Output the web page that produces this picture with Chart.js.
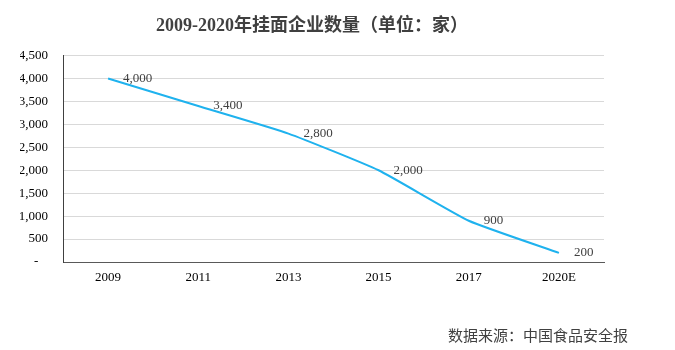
<!DOCTYPE html>
<html>
<head>
<meta charset="utf-8">
<script src="https://cdn.jsdelivr.net/npm/chart.js@4"></script>
<style>
  body { margin: 0; background: #fff; }
  #wrap { position: relative; width: 675px; height: 350px; }
  #source {
    position: absolute; right: 47px; top: 324px;
    font: 15px "Noto Sans CJK SC", sans-serif; color: #404040;
  }
</style>
</head>
<body>
<div id="wrap">
  <canvas id="myChart" width="675" height="350"></canvas>
  <div id="source">数据来源：中国食品安全报</div>
</div>
<script>
const years = ['2009', '2011', '2013', '2015', '2017', '2020E'];
const companies = [4000, 3400, 2800, 2000, 900, 200];
const yMax = 4500;
const yStep = 500;

const serif = '"Liberation Serif", "Times New Roman", "Noto Sans CJK SC", serif';

// labels to the right of each point, like the excel "right" position
const pointLabels = {
  id: 'pointLabels',
  afterDatasetsDraw(chart) {
    const ctx = chart.ctx;
    const meta = chart.getDatasetMeta(0);
    ctx.save();
    ctx.font = '13px ' + serif;
    ctx.fillStyle = '#404040';
    ctx.textAlign = 'left';
    ctx.textBaseline = 'middle';
    meta.data.forEach((pt, i) => {
      ctx.fillText(companies[i].toLocaleString('en-US'), pt.x + 15, pt.y);
    });
    ctx.restore();
  }
};

const ctx = document.getElementById('myChart');

new Chart(ctx, {
  type: 'line',
  data: {
    labels: years,
    datasets: [{
      label: '挂面企业数量',
      data: companies,
      borderColor: '#1fb2ee',
      borderWidth: 2,
      pointRadius: 0,
      tension: 0.15
    }]
  },
  options: {
    responsive: false,
    animation: false,
    layout: { padding: { left: 20, right: 71, top: 0, bottom: 58 } },
    plugins: {
      legend: { display: false },
      tooltip: { enabled: false },
      title: {
        display: true,
        text: '2009-2020年挂面企业数量（单位：家）',
        color: '#404040',
        font: { family: serif, size: 18, weight: 'bold', lineHeight: 1.2 },
        padding: { top: 16, bottom: 18 }
      }
    },
    scales: {
      x: {
        offset: true,
        grid: { display: false, drawTicks: false },
        border: { color: '#595959', width: 1 },
        ticks: { color: '#000', padding: 8, font: { family: serif, size: 13 } },
        afterFit: (scale) => { scale.height = 30; }
      },
      y: {
        min: 0,
        max: yMax,
        grid: { color: '#d9d9d9', drawTicks: false },
        border: { color: '#404040', width: 1 },
        ticks: {
          stepSize: yStep,
          color: '#000',
          padding: 15,
          font: { family: serif, size: 13 },
          callback: (value) => value === 0 ? '-   ' : value.toLocaleString('en-US')
        },
        afterFit: (scale) => { scale.width = 43; }
      }
    }
  },
  plugins: [pointLabels]
});
</script>
</body>
</html>
